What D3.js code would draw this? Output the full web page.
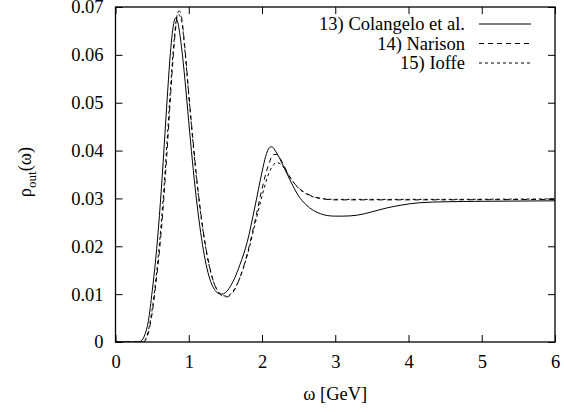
<!DOCTYPE html>
<html>
<head>
<meta charset="utf-8">
<script src="https://cdn.jsdelivr.net/npm/d3@7"></script>
<style>
  body { margin: 0; background: #fff; }
</style>
</head>
<body>
<div id="chart"></div>
<script>
// values (omega in GeV, rho_out)
const colangeloW = [0, 0.3, 0.35, 0.4, 0.45, 0.5, 0.55, 0.6, 0.65, 0.7, 0.75, 0.8, 0.82, 0.85, 0.9, 0.95, 1.0, 1.05, 1.1, 1.15, 1.2, 1.25, 1.3, 1.35, 1.4, 1.45, 1.5, 1.6, 1.7, 1.8, 1.9, 2.0, 2.05, 2.1, 2.13, 2.2, 2.3, 2.4, 2.5, 2.6, 2.7, 2.8, 2.9, 3.0, 3.1, 3.3, 3.5, 3.7, 3.9, 4.15, 4.5, 5.0, 6.0];
const colangeloR = [0, 0, 0.0002, 0.0015, 0.0045, 0.0105, 0.0175, 0.0265, 0.0375, 0.0495, 0.0605, 0.0670, 0.0677, 0.0668, 0.0618, 0.0545, 0.0460, 0.0378, 0.0305, 0.0243, 0.0192, 0.0153, 0.0126, 0.0110, 0.0102, 0.0100, 0.0103, 0.0125, 0.0162, 0.0210, 0.0280, 0.0355, 0.0388, 0.0406, 0.0408, 0.0395, 0.0365, 0.0333, 0.0305, 0.0287, 0.0275, 0.0268, 0.0264, 0.0263, 0.0263, 0.0265, 0.0272, 0.0280, 0.0286, 0.0291, 0.0293, 0.0294, 0.0295];

const narisonW = [0, 0.38, 0.45, 0.5, 0.55, 0.6, 0.65, 0.7, 0.75, 0.8, 0.85, 0.87, 0.9, 0.95, 1.0, 1.05, 1.1, 1.15, 1.2, 1.25, 1.3, 1.35, 1.4, 1.45, 1.5, 1.55, 1.6, 1.7, 1.8, 1.9, 2.0, 2.1, 2.15, 2.2, 2.3, 2.4, 2.5, 2.6, 2.7, 2.8, 3.0, 3.5, 4.0, 6.0];
const narisonR = [0, 0, 0.002, 0.006, 0.012, 0.019, 0.028, 0.039, 0.051, 0.062, 0.0688, 0.0692, 0.0680, 0.0610, 0.0520, 0.0435, 0.0355, 0.0287, 0.0230, 0.0183, 0.0147, 0.0121, 0.0105, 0.0097, 0.0094, 0.0096, 0.0103, 0.0135, 0.0185, 0.0250, 0.0320, 0.0375, 0.0391, 0.0392, 0.0368, 0.0340, 0.0322, 0.0311, 0.0304, 0.0300, 0.0297, 0.0297, 0.0297, 0.0298];

const ioffeW = [0, 0.37, 0.4, 0.45, 0.5, 0.55, 0.6, 0.65, 0.7, 0.75, 0.8, 0.85, 0.9, 0.95, 1.0, 1.05, 1.1, 1.15, 1.2, 1.25, 1.3, 1.35, 1.4, 1.45, 1.5, 1.55, 1.6, 1.7, 1.8, 1.9, 2.0, 2.1, 2.15, 2.2, 2.25, 2.3, 2.4, 2.5, 2.6, 2.7, 2.8, 3.0, 4.0, 6.0];
const ioffeR = [0, 0, 0.0003, 0.0025, 0.0068, 0.0130, 0.0205, 0.0298, 0.0410, 0.0528, 0.0630, 0.0686, 0.0672, 0.0605, 0.0515, 0.0430, 0.0350, 0.0283, 0.0227, 0.0181, 0.0146, 0.0121, 0.0106, 0.0098, 0.0096, 0.0098, 0.0105, 0.0135, 0.0182, 0.0243, 0.0305, 0.0355, 0.0369, 0.0375, 0.0372, 0.0364, 0.0340, 0.0321, 0.0310, 0.0303, 0.0300, 0.0298, 0.0298, 0.0299];

const seriesNames = ["13) Colangelo et al.", "14) Narison", "15) Ioffe"];
const xTicks = [0, 1, 2, 3, 4, 5, 6];
const yTicks = [0, 0.01, 0.02, 0.03, 0.04, 0.05, 0.06, 0.07];

// dimensions
const W = 564, H = 412;
const margin = {top: 7, right: 9, bottom: 70, left: 115.5};
const width = W - margin.left - margin.right;
const height = H - margin.top - margin.bottom;
const fs = 18.5;
const font = '"Liberation Serif", "Times New Roman", Times, "DejaVu Serif", serif';

const svg = d3.select("#chart").append("svg")
    .attr("width", W).attr("height", H)
    .attr("font-family", font);

const g = svg.append("g")
    .attr("transform", `translate(${margin.left},${margin.top})`);

const x = d3.scaleLinear().domain([0, 6]).range([0, width]);
const y = d3.scaleLinear().domain([0, 0.07]).range([height, 0]);

const yFmt = d => d === 0 ? "0" : d3.format(".2f")(d);

// axes, ticks pointing inward on all four sides
const tk = 7;
const bottomAx = g.append("g").attr("transform", `translate(0,${height})`)
    .call(d3.axisBottom(x).tickValues(xTicks).tickFormat(d3.format("d")).tickSize(-tk).tickPadding(13));
const leftAx = g.append("g")
    .call(d3.axisLeft(y).tickValues(yTicks).tickFormat(yFmt).tickSize(-tk).tickPadding(12));
const topAx = g.append("g")
    .call(d3.axisTop(x).tickValues(xTicks).tickFormat("").tickSize(-tk));
const rightAx = g.append("g").attr("transform", `translate(${width},0)`)
    .call(d3.axisRight(y).tickValues(yTicks).tickFormat("").tickSize(-tk));

[bottomAx, leftAx, topAx, rightAx].forEach(a => {
  a.attr("font-family", font).attr("font-size", fs);
  a.select(".domain").remove();
  a.selectAll("line").attr("stroke", "#000").attr("stroke-width", 1);
  a.selectAll("text").attr("fill", "#000").style("font-size", fs + "px");
});

// frame
g.append("rect")
    .attr("width", width).attr("height", height)
    .attr("fill", "none").attr("stroke", "#000").attr("stroke-width", 1.3);

// curves
g.append("clipPath").attr("id", "clip")
  .append("rect").attr("width", width).attr("height", height);

const line = d3.line()
    .x(d => x(d[0])).y(d => y(d[1]))
    .curve(d3.curveMonotoneX);

const series = [
  {pts: d3.zip(colangeloW, colangeloR), dash: null},
  {pts: d3.zip(narisonW, narisonR), dash: "5,4"},
  {pts: d3.zip(ioffeW, ioffeR), dash: "3,3"}
];

g.append("g").attr("clip-path", "url(#clip)")
  .selectAll("path")
  .data(series)
  .join("path")
    .attr("d", d => line(d.pts))
    .attr("fill", "none")
    .attr("stroke", "#000")
    .attr("stroke-width", 1)
    .attr("stroke-dasharray", d => d.dash);

// legend
const leg = svg.append("g");
series.forEach((s, i) => {
  const yy = 24 + i * 19.5;
  leg.append("text")
      .attr("x", 465).attr("y", yy)
      .attr("dy", "0.35em")
      .attr("text-anchor", "end")
      .style("font-size", fs + "px")
      .text(seriesNames[i]);
  leg.append("line")
      .attr("x1", 479).attr("x2", 531)
      .attr("y1", yy).attr("y2", yy)
      .attr("stroke", "#000").attr("stroke-width", 1)
      .attr("stroke-dasharray", s.dash);
});

// axis titles
svg.append("text")
    .attr("x", margin.left + width / 2).attr("y", 400)
    .attr("text-anchor", "middle")
    .style("font-size", fs + "px")
    .text("ω [GeV]");

const yl = svg.append("text")
    .attr("transform", "translate(31,172) rotate(-90)")
    .attr("text-anchor", "middle")
    .style("font-size", fs + "px");
yl.append("tspan").text("ρ");
yl.append("tspan").attr("dy", 5).style("font-size", "13px").text("out");
yl.append("tspan").attr("dy", -5).text("(ω)");
</script>
</body>
</html>
